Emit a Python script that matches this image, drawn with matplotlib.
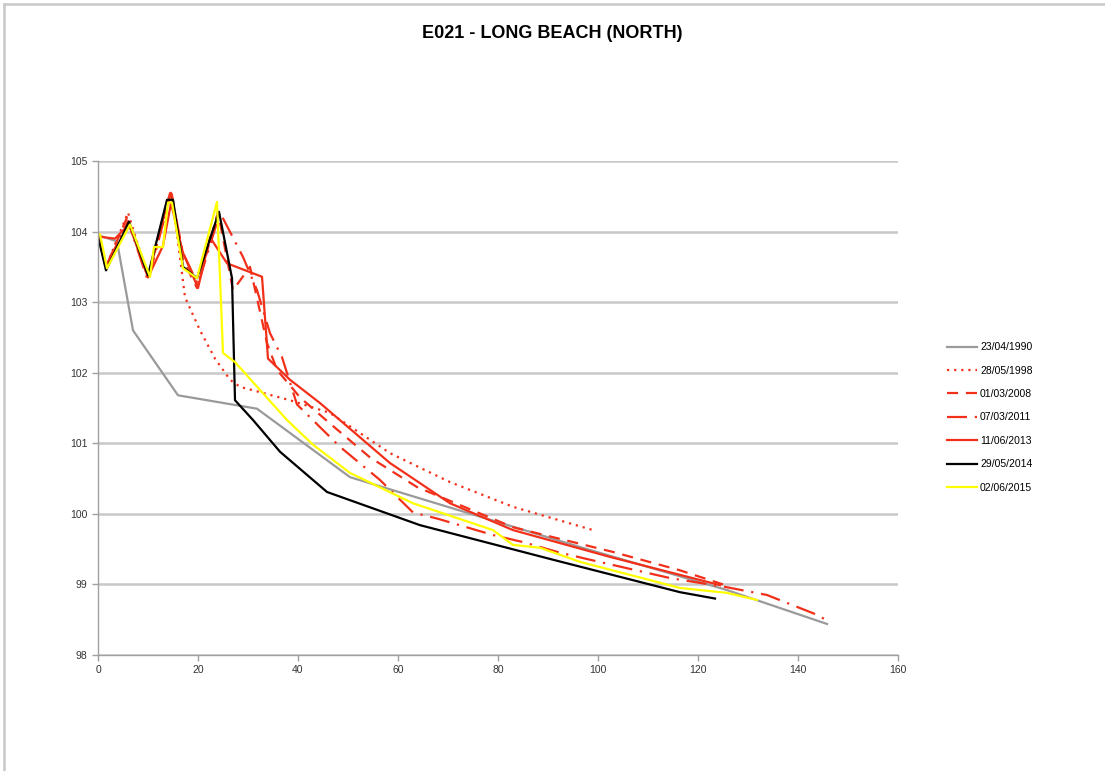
import matplotlib
matplotlib.use("Agg")
import matplotlib.pyplot as plt
from matplotlib.lines import Line2D

plt.rcParams['font.family'] = ['Liberation Sans Narrow', 'Liberation Sans', 'DejaVu Sans']

# 23/04/1990
x_1990 = [0, 3.8, 7, 16, 31.8, 50.4, 96.4, 125.8, 145.8]
y_1990 = [103.95, 103.86, 102.6, 101.68, 101.49, 100.52, 99.53, 98.92, 98.44]

# 28/05/1998
x_1998 = [0, 1.6, 6, 10, 14.4, 15.2, 17.4, 20.4, 23.4, 26.4, 28.4, 38.4, 46.4,
          58.4, 70.4, 83, 99]
y_1998 = [103.95, 103.5, 104.27, 103.35, 104.5, 104.3, 103.07, 102.6, 102.2,
          101.9, 101.8, 101.61, 101.43, 100.86, 100.45, 100.1, 99.77]

# 01/03/2008
x_2008 = [0, 1.6, 5.8, 10, 14.6, 17, 19.8, 24, 27, 30.4, 33.8, 35.8, 40.4,
          46.4, 54.4, 63.8, 83, 103, 116.4, 125]
y_2008 = [103.95, 103.5, 104.2, 103.35, 104.6, 103.6, 103.2, 104.28, 103.17,
          103.5, 102.42, 102.04, 101.65, 101.28, 100.8, 100.38, 99.81, 99.46,
          99.2, 99.0]

# 07/03/2011
x_2011 = [0, 1.6, 6, 10, 14.6, 17, 20, 24.4, 29, 31.8, 34.4, 36.8, 39.8,
          48.4, 56.4, 63, 68, 79, 85, 92.4, 98.4, 114.4, 125.8, 133.8, 143.8,
          145.5]
y_2011 = [103.95, 103.5, 104.15, 103.3, 104.55, 103.7, 103.25, 104.27, 103.64,
          103.17, 102.56, 102.22, 101.55, 100.95, 100.48, 100.02, 99.93, 99.7,
          99.6, 99.45, 99.35, 99.09, 98.96, 98.85, 98.57, 98.5]

# 11/06/2013
x_2013 = [0, 3.4, 6.2, 10, 13, 14.6, 17, 20, 22.4, 25.8, 32.8, 34, 38.4, 44.4,
          58.4, 70.4, 83, 102.4, 124.4]
y_2013 = [103.93, 103.9, 104.1, 103.35, 103.8, 104.4, 103.7, 103.2, 103.92,
          103.55, 103.36, 102.2, 101.9, 101.57, 100.72, 100.15, 99.77, 99.39,
          98.99]

# 29/05/2014
x_2014 = [0, 1.6, 6.2, 10, 13.8, 15, 17, 19.8, 24.2, 26.8, 27.4, 31, 36.4,
          45.8, 64.4, 91, 116.4, 123.4]
y_2014 = [103.93, 103.45, 104.14, 103.38, 104.45, 104.45, 103.5, 103.34,
          104.28, 103.34, 101.61, 101.33, 100.88, 100.31, 99.84, 99.35, 98.89,
          98.8]

# 02/06/2015
x_2015 = [0.4, 1.8, 6.4, 10.4, 11.2, 13, 14, 14.8, 17, 19.8, 23.8, 25, 27.4,
          37.8, 43, 50.4, 63, 79, 83, 88.4, 96.4, 116.4, 125.8, 131.8]
y_2015 = [103.96, 103.48, 104.1, 103.36, 103.78, 103.78, 104.41, 104.41, 103.48,
          103.34, 104.42, 102.28, 102.15, 101.33, 100.98, 100.58, 100.15, 99.77,
          99.56, 99.52, 99.32, 98.95, 98.88, 98.78]

RED = '#f2301a'

fig = plt.figure(figsize=(11.05, 7.71), dpi=100)
ax = fig.add_axes([98 / 1105, 1 - 655 / 771, 800 / 1105, 494 / 771])

lw = 1.6
ax.plot(x_1990, y_1990, color='#9a9a9a', lw=lw, label='23/04/1990')
ax.plot(x_1998, y_1998, color=RED, lw=lw, linestyle=(0, (1, 2.2)), label='28/05/1998')
ax.plot(x_2008, y_2008, color=RED, lw=lw, linestyle=(0, (5, 3.5)), label='01/03/2008')
ax.plot(x_2011, y_2011, color=RED, lw=lw, linestyle=(0, (9, 3.5, 1, 3.5)), label='07/03/2011')
ax.plot(x_2013, y_2013, color=RED, lw=lw, label='11/06/2013')
ax.plot(x_2014, y_2014, color='black', lw=lw, label='29/05/2014')
ax.plot(x_2015, y_2015, color='#ffff00', lw=lw, label='02/06/2015')

ax.set_xlim(0, 160)
ax.set_ylim(98, 105)
ax.set_xticks(range(0, 161, 20))
ax.set_yticks(range(98, 106))
ax.yaxis.grid(True, color='#c8c8c8', lw=1.8)
ax.set_axisbelow(True)
for s in ['top', 'right']:
    ax.spines[s].set_visible(False)
for s in ['left', 'bottom']:
    ax.spines[s].set_color('#a0a0a0')
    ax.spines[s].set_linewidth(1.0)
ax.tick_params(axis='both', colors='#a0a0a0', labelcolor='#333333',
               labelsize=7.5, length=4, width=1.0, direction='out')

fig.text(0.5, 1 - 33 / 771, 'E021 - LONG BEACH (NORTH)', ha='center', va='center',
         fontsize=13, fontweight='bold')

fig.legend(loc='center left', bbox_to_anchor=(942 / 1105, 1 - 417.5 / 771),
           frameon=False, fontsize=7.5, handlelength=2.9, handletextpad=0.25,
           labelspacing=1.29, borderpad=0)

# screenshot border
fig.add_artist(Line2D([4 / 1105, 4 / 1105], [0, 1 - 4 / 771], color='#c8c8c8', lw=1.8))
fig.add_artist(Line2D([4 / 1105, 1], [1 - 4 / 771, 1 - 4 / 771], color='#c8c8c8', lw=1.8))

fig.savefig('out.png', dpi=100)
